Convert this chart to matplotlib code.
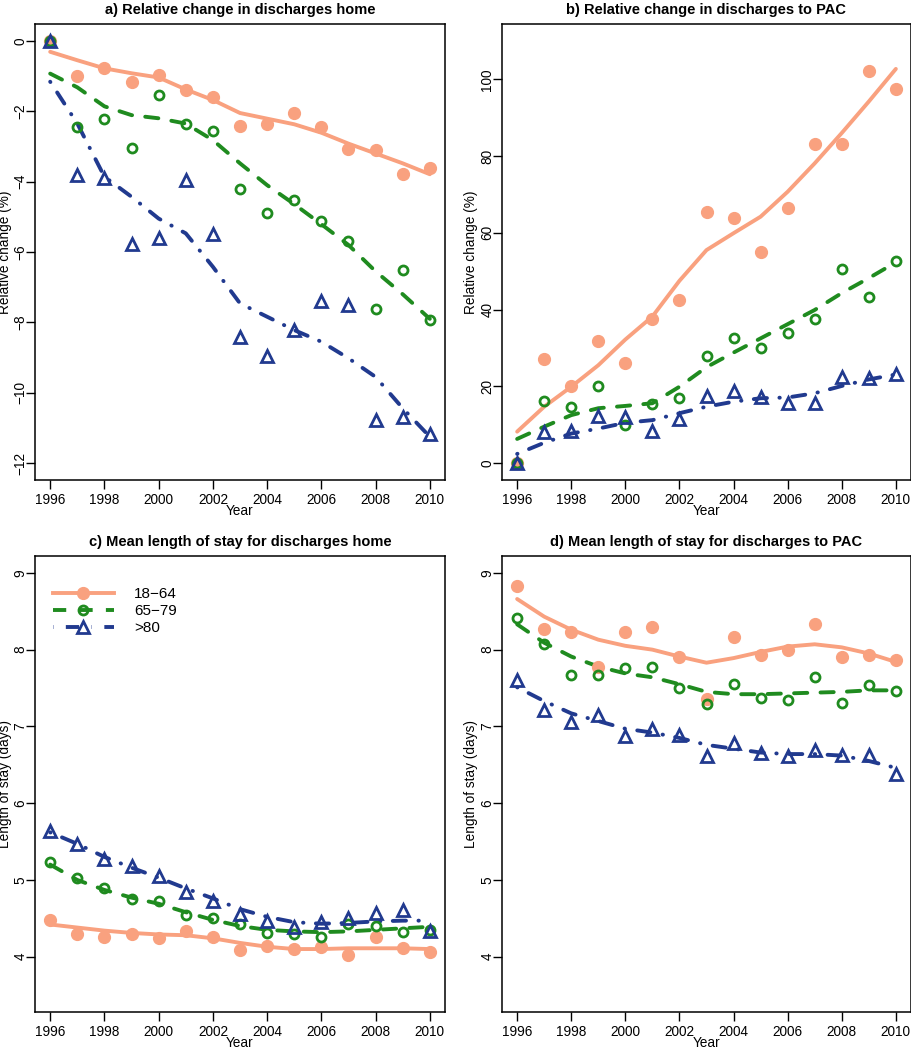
import matplotlib
matplotlib.use('Agg')
import matplotlib.pyplot as plt
import numpy as np

plt.rcParams['font.family'] = ['Liberation Sans', 'DejaVu Sans']

years = np.arange(1996, 2011)
groups = ['18\u221264', '65\u221279', '>80']

# a) relative change in discharges home (%)
a_pts_1864 = [0, -1.01, -0.76, -1.16, -0.97, -1.40, -1.59, -2.42, -2.37, -2.05, -2.46, -3.08, -3.09, -3.78, -3.60]
a_pts_6579 = [0, -2.45, -2.21, -3.03, -1.53, -2.35, -2.57, -4.20, -4.89, -4.53, -5.12, -5.68, -7.62, -6.51, -7.93]
a_pts_80 = [0, -3.81, -3.91, -5.76, -5.61, -3.96, -5.50, -8.41, -8.97, -8.22, -7.39, -7.51, -10.78, -10.68, -11.17]
a_fit_1864 = [-0.31, -0.55, -0.78, -0.92, -1.04, -1.38, -1.68, -2.05, -2.21, -2.37, -2.61, -2.92, -3.20, -3.48, -3.79]
a_fit_6579 = [-0.93, -1.32, -1.86, -2.11, -2.20, -2.35, -2.82, -3.48, -4.10, -4.64, -5.21, -5.80, -6.55, -7.20, -7.90]
a_fit_80 = [-1.16, -2.35, -3.86, -4.43, -5.05, -5.47, -6.42, -7.46, -7.84, -8.22, -8.55, -9.02, -9.55, -10.44, -11.25]

# b) relative change in discharges to PAC (%)
b_pts_1864 = [0, 27.0, 20.1, 31.8, 26.1, 37.5, 42.4, 65.3, 63.8, 55.1, 66.4, 83.2, 83.2, 102.2, 97.4]
b_pts_6579 = [0, 16.2, 14.7, 20.1, 10.0, 15.3, 17.0, 27.9, 32.5, 30.0, 34.0, 37.6, 50.6, 43.3, 52.7]
b_pts_80 = [0, 8.2, 8.4, 12.3, 11.9, 8.4, 11.6, 17.6, 18.7, 17.3, 15.6, 15.7, 22.5, 22.3, 23.3]
b_fit_1864 = [8.2, 14.7, 19.9, 25.5, 32.2, 38.2, 47.5, 55.5, 59.9, 64.2, 70.7, 78.1, 86.0, 94.2, 102.7]
b_fit_6579 = [6.3, 9.5, 12.5, 14.3, 14.9, 15.6, 19.9, 25.0, 28.8, 32.5, 36.2, 39.9, 44.3, 48.2, 52.3]
b_fit_80 = [2.4, 5.3, 7.7, 9.0, 10.5, 11.2, 13.0, 14.7, 16.0, 16.9, 17.1, 18.2, 20.1, 21.8, 23.1]

# c) mean length of stay, discharges home (days)
c_pts_1864 = [4.48, 4.29, 4.26, 4.29, 4.25, 4.33, 4.26, 4.09, 4.14, 4.10, 4.13, 4.02, 4.26, 4.11, 4.06]
c_pts_6579 = [5.23, 5.03, 4.90, 4.75, 4.72, 4.54, 4.50, 4.42, 4.31, 4.29, 4.26, 4.43, 4.40, 4.32, 4.35]
c_pts_80 = [5.64, 5.47, 5.27, 5.18, 5.05, 4.84, 4.73, 4.56, 4.47, 4.39, 4.45, 4.50, 4.57, 4.61, 4.34]
c_fit_1864 = [4.42, 4.38, 4.34, 4.31, 4.29, 4.28, 4.24, 4.18, 4.13, 4.10, 4.10, 4.11, 4.11, 4.11, 4.10]
c_fit_6579 = [5.20, 5.00, 4.87, 4.77, 4.69, 4.58, 4.48, 4.40, 4.35, 4.33, 4.32, 4.33, 4.35, 4.37, 4.39]
c_fit_80 = [5.62, 5.47, 5.30, 5.16, 5.03, 4.89, 4.76, 4.62, 4.52, 4.45, 4.43, 4.44, 4.46, 4.47, 4.47]

# d) mean length of stay, discharges to PAC (days)
d_pts_1864 = [8.83, 8.27, 8.23, 7.77, 8.23, 8.30, 7.90, 7.36, 8.17, 7.93, 7.99, 8.34, 7.90, 7.93, 7.86]
d_pts_6579 = [8.41, 8.07, 7.67, 7.67, 7.76, 7.78, 7.50, 7.29, 7.55, 7.37, 7.34, 7.65, 7.31, 7.54, 7.46]
d_pts_80 = [7.61, 7.21, 7.06, 7.15, 6.88, 6.97, 6.89, 6.61, 6.78, 6.65, 6.61, 6.69, 6.63, 6.63, 6.38]
d_fit_1864 = [8.66, 8.43, 8.26, 8.13, 8.05, 8.00, 7.91, 7.83, 7.89, 7.97, 8.04, 8.07, 8.03, 7.95, 7.84]
d_fit_6579 = [8.33, 8.09, 7.91, 7.78, 7.69, 7.64, 7.55, 7.45, 7.42, 7.42, 7.43, 7.44, 7.45, 7.47, 7.47]
d_fit_80 = [7.51, 7.33, 7.17, 7.07, 6.97, 6.92, 6.85, 6.76, 6.71, 6.66, 6.64, 6.64, 6.62, 6.55, 6.46]

panels = [
    ('a) Relative change in discharges home', 'Relative change (%)', (-12, 0), np.arange(-12, 1, 2),
     [a_pts_1864, a_pts_6579, a_pts_80], [a_fit_1864, a_fit_6579, a_fit_80]),
    ('b) Relative change in discharges to PAC', 'Relative change (%)', (0, 110), np.arange(0, 101, 20),
     [b_pts_1864, b_pts_6579, b_pts_80], [b_fit_1864, b_fit_6579, b_fit_80]),
    ('c) Mean length of stay for discharges home', 'Length of stay (days)', (3.5, 9), np.arange(4, 10),
     [c_pts_1864, c_pts_6579, c_pts_80], [c_fit_1864, c_fit_6579, c_fit_80]),
    ('d) Mean length of stay for discharges to PAC', 'Length of stay (days)', (3.5, 9), np.arange(4, 10),
     [d_pts_1864, d_pts_6579, d_pts_80], [d_fit_1864, d_fit_6579, d_fit_80]),
]

colors = ['#F9A17F', '#1F8B1F', '#213A8F']
styles = ['-', (0, (3.4, 3.4)), (0, (0.1, 3.2, 3.4, 3.2))]
lw = 2.8

W, H = 912.0, 1050.0
# axes boxes in pixels: left, top, right, bottom
boxes = [(35, 24, 445, 480), (502, 24, 911, 480), (35, 556, 445, 1012), (502, 556, 911, 1012)]
# right edge of the y label, pixels
ylab_x = [12, 478, 12, 478]

fig = plt.figure(figsize=(W/100, H/100), dpi=100)

def rlim(lo, hi):
    d = (hi - lo)*0.04
    return lo - d, hi + d

for k, (title, ylab, ylim, yticks, pts, fits) in enumerate(panels):
    l, t, r, b = boxes[k]
    ax = fig.add_axes([l/W, 1 - b/H, (r - l)/W, (b - t)/H])

    for i in range(3):
        ax.plot(years, fits[i], color=colors[i], lw=lw, linestyle=styles[i],
                dash_capstyle='round', solid_capstyle='round', zorder=2)
    ax.plot(years, pts[0], 'o', color=colors[0], ms=8.5, mec=colors[0], zorder=3)
    ax.plot(years, pts[1], 'o', mfc='none', mec=colors[1], mew=2.0, ms=6.5, zorder=3)
    ax.plot(years, pts[2], '^', mfc='none', mec=colors[2], mew=2.0, ms=8, zorder=3)

    ax.set_xlim(rlim(1996, 2010))
    ax.set_ylim(rlim(*ylim))
    ax.set_xticks(np.arange(1996, 2011, 2))
    ax.set_yticks(yticks)
    ax.set_yticklabels([str(v).replace('-', '\u2212') for v in yticks], rotation=90, va='center')
    ax.tick_params(direction='out', length=6.5, width=1, labelsize=9.8)
    ax.tick_params(axis='x', pad=3)
    ax.tick_params(axis='y', pad=-1)
    for s in ax.spines.values():
        s.set_linewidth(1.1)
    ax.set_title(title, fontsize=10.5, fontweight='bold', pad=7)
    ax.set_xlabel('Year', fontsize=9.8, labelpad=-2)
    ax.set_ylabel(ylab, fontsize=9.8)
    ax.yaxis.set_label_coords((ylab_x[k] - l)/(r - l), 0.5)

    if k == 2:
        handles = []
        mk = [dict(marker='o', ms=8.5, mfc=colors[0], mec=colors[0]),
              dict(marker='o', ms=6.5, mfc='none', mec=colors[1], mew=2.0),
              dict(marker='^', ms=8, mfc='none', mec=colors[2], mew=2.0)]
        for i in range(3):
            h, = ax.plot([], [], color=colors[i], lw=lw, linestyle=styles[i], **mk[i])
            handles.append(h)
        ax.legend(handles, groups, loc='upper left', frameon=False, fontsize=11,
                  handlelength=4.0, bbox_to_anchor=(0.01, 0.962), labelspacing=0.2,
                  handletextpad=1.3)

fig.savefig('out.png', dpi=100)
